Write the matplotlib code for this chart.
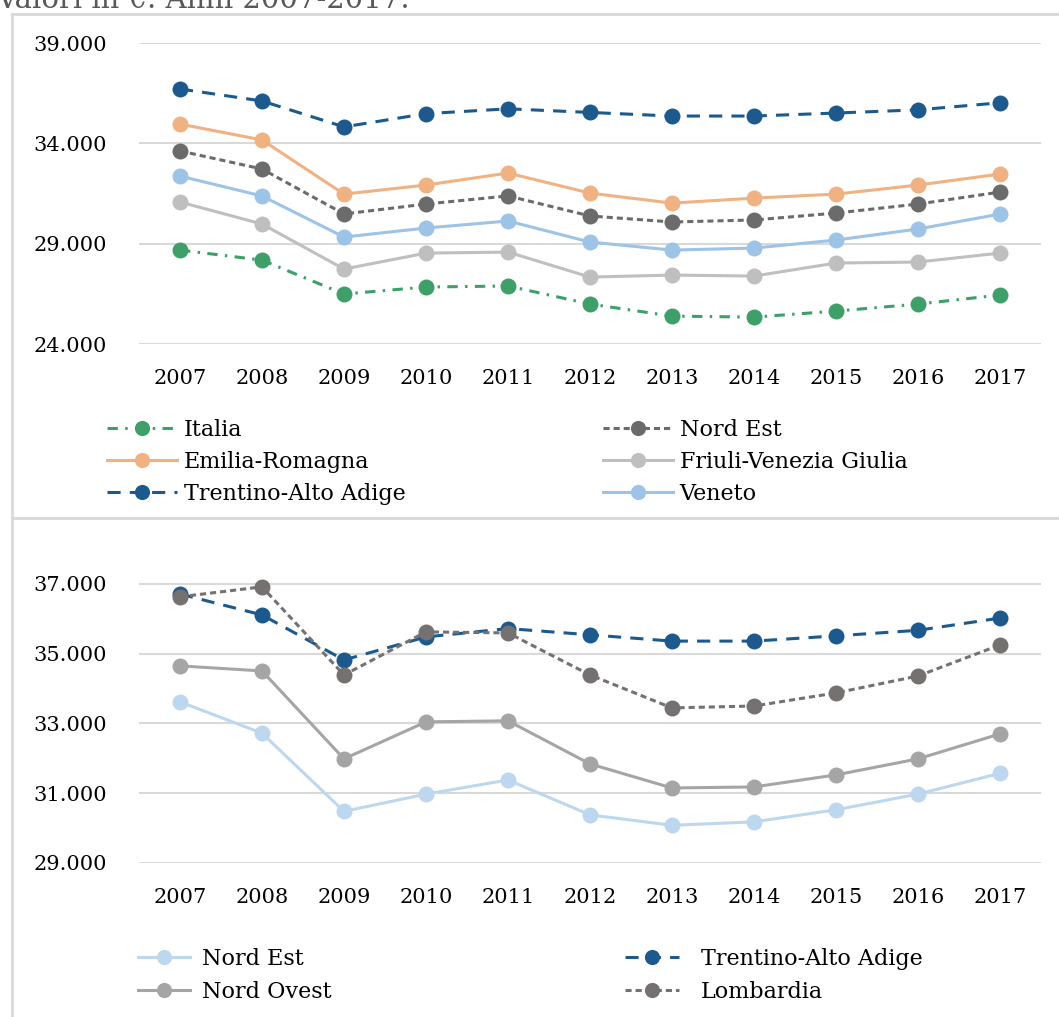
import matplotlib
matplotlib.use("Agg")
import matplotlib.pyplot as plt
from matplotlib.lines import Line2D

plt.rcParams['font.family'] = ['DejaVu Serif']

years = ['2007', '2008', '2009', '2010', '2011', '2012', '2013', '2014', '2015', '2016', '2017']

# Top panel
italia = [28680, 28180, 26490, 26840, 26890, 25990, 25390, 25340, 25640, 25990, 26440]
nord_est = [33620, 32720, 30480, 30975, 31380, 30380, 30080, 30180, 30525, 30975, 31570]
emilia = [34960, 34170, 31470, 31920, 32520, 31520, 31020, 31270, 31470, 31920, 32470]
friuli = [31075, 29980, 27735, 28530, 28580, 27335, 27435, 27385, 28035, 28085, 28530]
trentino = [36710, 36110, 34820, 35480, 35720, 35540, 35360, 35360, 35510, 35670, 36020]
veneto = [32370, 31375, 29330, 29780, 30130, 29080, 28680, 28780, 29180, 29730, 30475]

# Bottom panel
nord_ovest = [34650, 34505, 31985, 33045, 33075, 31840, 31150, 31180, 31525, 31985, 32700]
lombardia = [36630, 36915, 34390, 35625, 35595, 34390, 33445, 33500, 33875, 34360, 35250]

top_ticks = [24000, 29000, 34000, 39000]
bot_ticks = [29000, 31000, 33000, 35000, 37000]

W, H = 1059, 1017
fig = plt.figure(figsize=(W / 100, H / 100), dpi=100)

GRID = '#D9D9D9'
FS = 15
LFS = 16

def fmt(v):
    return f"{v:,}".replace(',', '.')

def style_axis(ax, ticks, ylim):
    ax.set_xlim(-0.5, len(years) - 0.5)
    ax.set_ylim(*ylim)
    ax.set_yticks(ticks)
    ax.set_yticklabels([fmt(t) for t in ticks])
    ax.set_xticks(range(len(years)))
    ax.set_xticklabels(years)
    for s in ax.spines.values():
        s.set_visible(False)
    ax.tick_params(axis='both', length=0, labelsize=FS, colors='#000000')
    ax.tick_params(axis='y', pad=23)
    ax.tick_params(axis='x', pad=18)
    ax.grid(axis='y', color=GRID, lw=1.5)
    ax.set_axisbelow(True)

MS = 11.5
LW = 2.2

def plot(ax, vals, color, ls, label, z=2):
    x = list(range(len(years)))
    return ax.plot(x, vals, color=color, lw=LW, ls=ls, marker='o', ms=MS,
                   markeredgewidth=0, label=label, zorder=z)[0]

long_dash = (0, (4.3, 3.0))
short_dash = (0, (2.0, 1.3))
dash_dot = (0, (3.4, 2.4, 0.8, 2.4))

# Top axes
ax1 = fig.add_axes([139 / W, 1 - 344 / H, 902 / W, 301 / H])
style_axis(ax1, top_ticks, (24000, 39000))
h_fr = plot(ax1, friuli, '#BFBFBF', '-', 'Friuli-Venezia Giulia')
h_ve = plot(ax1, veneto, '#9DC3E6', '-', 'Veneto')
h_ne = plot(ax1, nord_est, '#6B6B6B', short_dash, 'Nord Est')
h_er = plot(ax1, emilia, '#F0B183', '-', 'Emilia-Romagna')
h_it = plot(ax1, italia, '#3E9F68', dash_dot, 'Italia')
h_tr = plot(ax1, trentino, '#1C5A8E', long_dash, 'Trentino-Alto Adige')

# Bottom axes
ax2 = fig.add_axes([139 / W, 1 - 863 / H, 902 / W, 314 / H])
style_axis(ax2, bot_ticks, (29000, 38000))
b_ne = plot(ax2, nord_est, '#BDD7EE', '-', 'Nord Est')
b_no = plot(ax2, nord_ovest, '#A5A5A5', '-', 'Nord Ovest')
b_tr = plot(ax2, trentino, '#1C5A8E', long_dash, 'Trentino-Alto Adige')
b_lo = plot(ax2, lombardia, '#767171', short_dash, 'Lombardia')

def add_legend(handles, x_px, y_px, hl, tp, ls):
    leg = fig.legend(handles=handles, loc='upper left',
                     bbox_to_anchor=(x_px / W, 1 - y_px / H),
                     frameon=False, fontsize=LFS, handlelength=hl,
                     handletextpad=tp, borderpad=0, borderaxespad=0,
                     labelspacing=ls, markerscale=0.95)
    for t in leg.get_texts():
        t.set_color('#000000')
    return leg

add_legend([h_it, h_er, h_tr], 107, 419, 3.15, 0.3, 0.45)
add_legend([h_ne, h_fr, h_ve], 603, 419, 3.15, 0.3, 0.45)
add_legend([b_ne, b_no], 138, 948, 2.35, 0.55, 0.5)
add_legend([b_tr, b_lo], 625, 948, 2.45, 0.95, 0.5)

# Panel frames
fr = dict(color=GRID, lw=2, transform=fig.transFigure)
fig.add_artist(Line2D([12 / W, 12 / W], [0, 1 - 14 / H], **fr))
fig.add_artist(Line2D([12 / W, 1], [1 - 14 / H, 1 - 14 / H], **fr))
fig.add_artist(Line2D([12 / W, 1], [1 - 518 / H, 1 - 518 / H], **fr))

# Cut-off subtitle at the very top (as in the reference)
fig.text(-0.004, 1 - 8 / H, 'Valori in €. Anni 2007-2017.', fontsize=21,
         color='#595959', va='baseline', ha='left')

fig.savefig('out.png', dpi=100)
